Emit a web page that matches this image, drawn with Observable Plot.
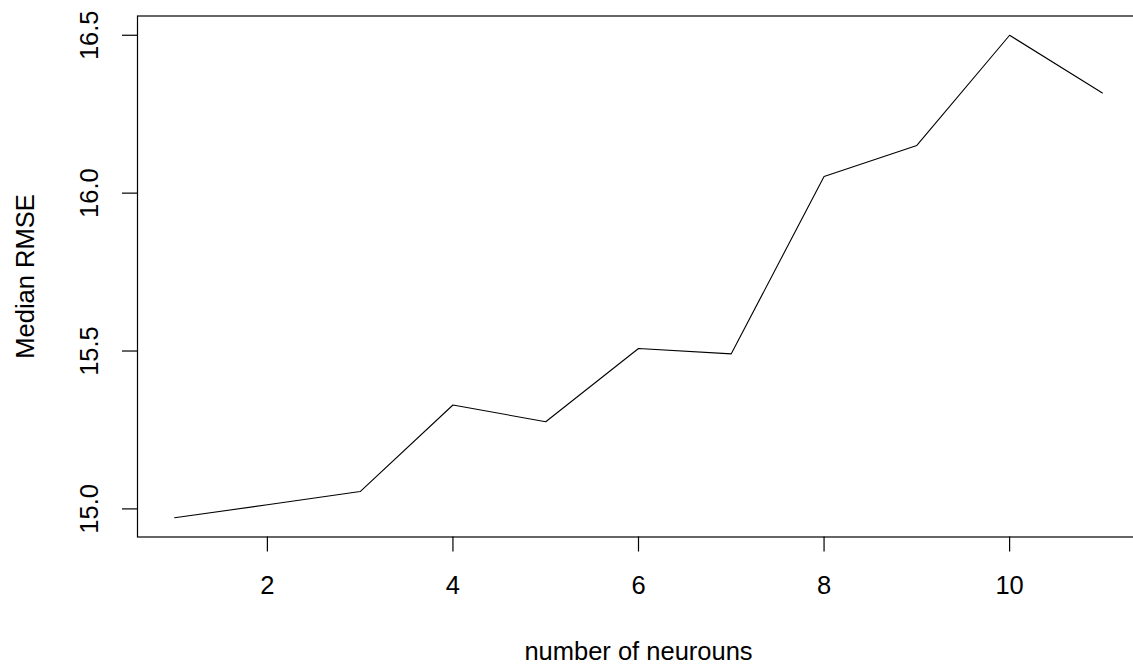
<!DOCTYPE html>
<html>
<head>
<meta charset="utf-8">
<script src="https://cdn.jsdelivr.net/npm/d3@7"></script>
<script src="https://cdn.jsdelivr.net/npm/@observablehq/plot@0.6"></script>
<style>
  html, body { margin: 0; padding: 0; background: #fff; }
  #chart svg { display: block; }
</style>
</head>
<body>
<div id="chart"></div>
<script>
// Data
const neurons = [1, 2, 3, 4, 5, 6, 7, 8, 9, 10, 11];
const medianRMSE = [14.972, 15.013, 15.055, 15.329, 15.276, 15.508, 15.491, 16.053, 16.151, 16.500, 16.317];
const xTicks = [2, 4, 6, 8, 10];
const yTicks = [15.0, 15.5, 16.0, 16.5];
const xTitle = "number of neurouns";
const yTitle = "Median RMSE";

const data = neurons.map((n, i) => ({n, v: medianRMSE[i]}));

const FONT = "Liberation Sans, Arial, Helvetica, sans-serif";
const FS = 25.5;

const chart = Plot.plot({
  width: 1133,
  height: 666,
  marginLeft: 137,
  marginRight: -6,
  marginTop: 15.5,
  marginBottom: 129.5,
  style: {fontFamily: FONT, fontSize: FS + "px", color: "#000", background: "#fff"},
  x: {domain: [0.6, 11.4], axis: null, label: null},
  y: {domain: [14.911, 16.561], axis: null, label: null},
  marks: [
    Plot.frame({stroke: "#000", strokeWidth: 1.2}),
    // x axis ticks + labels
    Plot.axisX(xTicks, {label: null, tickSize: 15, tickPadding: 24, fontSize: FS, stroke: "#000", strokeWidth: 1.2, tickFormat: d => String(d)}),
    // y axis ticks
    Plot.axisY(yTicks, {label: null, tickSize: 15, stroke: "#000", strokeWidth: 1.2, tickFormat: () => ""}),
    // y tick labels, rotated like R's default
    Plot.text(yTicks, {y: d => d, text: d => d.toFixed(1), frameAnchor: "left", dx: -48, rotate: -90, textAnchor: "middle", lineAnchor: "middle", fontSize: FS, fill: "#000"}),
    // axis titles
    Plot.text([xTitle], {text: d => d, frameAnchor: "bottom", dy: 114.5, lineAnchor: "middle", fontSize: FS, fill: "#000"}),
    Plot.text([yTitle], {text: d => d, frameAnchor: "left", dx: -112, rotate: -90, textAnchor: "middle", lineAnchor: "middle", fontSize: FS, fill: "#000"}),
    // the series
    Plot.line(data, {x: "n", y: "v", stroke: "#000", strokeWidth: 1.1})
  ]
});

document.getElementById("chart").appendChild(chart);
</script>
</body>
</html>
